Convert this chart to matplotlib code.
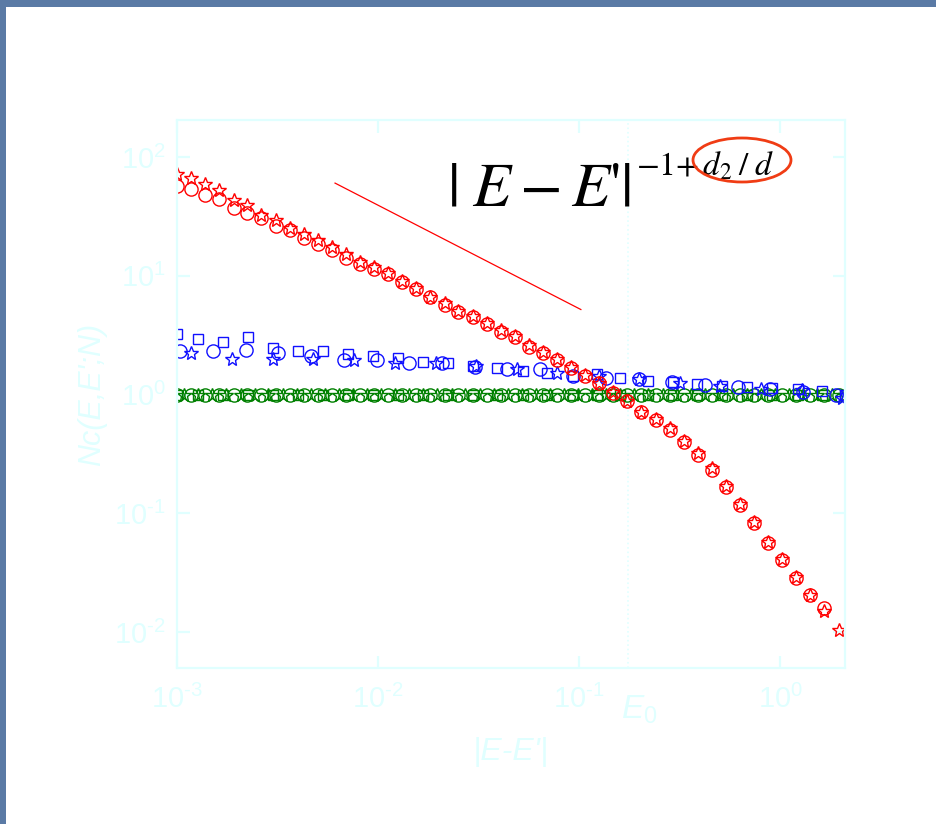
import matplotlib
matplotlib.use("Agg")
import numpy as np
import matplotlib.pyplot as plt
from matplotlib.patches import Ellipse, Rectangle
from matplotlib.ticker import LogLocator, NullLocator, FuncFormatter

# ---- data -------------------------------------------------------------
# red: power-law regime, crossing over near E0
red_x = [0.00100, 0.00117, 0.00138, 0.00162, 0.00191, 0.00224, 0.00263, 0.00309,
         0.00363, 0.00427, 0.00501, 0.00589, 0.00692, 0.00813, 0.00955, 0.0112,
         0.0132, 0.0155, 0.0182, 0.0214, 0.0251, 0.0295, 0.0347, 0.0407,
         0.0479, 0.0562, 0.0661, 0.0776, 0.0912, 0.107, 0.126, 0.148,
         0.174, 0.204, 0.240, 0.282, 0.331, 0.389, 0.457, 0.537,
         0.631, 0.741, 0.871, 1.02, 1.20, 1.41, 1.66, 1.95]
red_circle_y = [56.9, 53.7, 47.8, 44.2, 37.1, 33.7, 30.6, 26.2,
                24.2, 20.7, 18.4, 16.4, 14.1, 12.7, 11.4, 10.3,
                8.81, 7.69, 6.59, 5.74, 5.01, 4.47, 3.90, 3.40,
                3.03, 2.54, 2.26, 1.97, 1.69, 1.45, 1.26, 1.04,
                0.889, 0.719, 0.615, 0.507, 0.401, 0.312, 0.233, 0.167,
                0.118, 0.0832, 0.0564, 0.0406, 0.0286, 0.0205, 0.0160]
red_star_y = [71.9, 66.5, 59.2, 52.7, 43.4, 39.3, 32.4, 29.4,
              25.2, 22.4, 19.9, 17.4, 15.2, 13.2, 11.8, 10.6,
              9.0, 7.9, 6.7, 5.9, 5.1, 4.6, 4.0, 3.5,
              3.1, 2.6, 2.3, 2.0, 1.72, 1.47, 1.26, 1.05,
              0.88, 0.72, 0.62, 0.52, 0.41, 0.32, 0.24, 0.17,
              0.12, 0.084, 0.057, 0.041, 0.029, 0.0205, 0.0150, 0.0104]

# blue: weak dependence
blue_square_x = [0.00100, 0.00127, 0.00169, 0.00225, 0.00301, 0.00400, 0.00532,
                 0.00710, 0.00944, 0.0126, 0.0167, 0.0223, 0.0297, 0.0391,
                 0.0526, 0.0693, 0.0933, 0.123, 0.160, 0.220, 0.294,
                 0.386, 0.514, 0.686, 0.912, 1.22, 1.62, 2.10]
blue_square_y = [3.27, 2.97, 2.80, 3.08, 2.49, 2.31, 2.31,
                 2.18, 2.13, 2.05, 1.90, 1.83, 1.76, 1.69,
                 1.59, 1.53, 1.45, 1.50, 1.39, 1.31, 1.29,
                 1.24, 1.19, 1.17, 1.14, 1.12, 1.08, 1.00]
blue_circle_x = [0.00103, 0.00151, 0.00220, 0.00318, 0.00464, 0.00678, 0.00989,
                 0.0143, 0.0208, 0.0304, 0.0438, 0.0640, 0.0933, 0.136,
                 0.199, 0.290, 0.424, 0.618, 0.891, 1.30, 1.90]
blue_circle_y = [2.35, 2.35, 2.40, 2.26, 2.13, 1.94, 1.94,
                 1.86, 1.86, 1.72, 1.66, 1.63, 1.45, 1.39,
                 1.36, 1.29, 1.21, 1.17, 1.12, 1.06, 1.00]
blue_star_x = [0.00117, 0.00188, 0.00301, 0.00475, 0.00760, 0.0122, 0.0195,
               0.0308, 0.0492, 0.0778, 0.125, 0.199, 0.318, 0.502,
               0.804, 1.29, 2.03]
blue_star_y = [2.26, 2.01, 2.01, 2.01, 1.97, 1.86, 1.86,
               1.76, 1.63, 1.53, 1.45, 1.36, 1.26, 1.19,
               1.12, 1.10, 0.94]

# green: flat at 1
green_circle_x = red_x
green_circle_y = [1.0] * len(green_circle_x)
green_star_x = [0.00108, 0.00127, 0.00150, 0.00176, 0.00207, 0.00243, 0.00285, 0.00335,
                0.00394, 0.00462, 0.00543, 0.00638, 0.00750, 0.00881, 0.0104, 0.0122,
                0.0143, 0.0168, 0.0197, 0.0232, 0.0272, 0.0320, 0.0376, 0.0442,
                0.0519, 0.0610, 0.0716, 0.0841, 0.0989, 0.116, 0.136, 0.160,
                0.188, 0.221, 0.260, 0.305, 0.359, 0.422, 0.495, 0.582,
                0.684, 0.804, 0.944, 1.11, 1.30, 1.53, 1.80, 2.11]
green_star_y = [1.0] * len(green_star_x)
green_square_x = blue_square_x
green_square_y = [1.0] * len(green_square_x)

# guide line with slope -1 + d2/d
guide_x = [0.00611, 0.102]
guide_y = [60.4, 5.21]

E0 = 0.175

# ---- style ------------------------------------------------------------
plt.rcParams['mathtext.fontset'] = 'custom'
plt.rcParams['mathtext.rm'] = 'Liberation Sans'
plt.rcParams['mathtext.it'] = 'Liberation Sans:italic'
plt.rcParams['mathtext.bf'] = 'Liberation Sans:bold'
plt.rcParams['axes.unicode_minus'] = False
plt.rcParams['font.family'] = ['Liberation Sans', 'DejaVu Sans']

axis_col = '#E0FFFF'
green = '#008000'


def pow10(v, pos):
    # 10^n with a short hyphen for negative exponents
    n = int(round(np.log10(v)))
    exp = r'\text{-}%d' % -n if n < 0 else '%d' % n
    return r'$10^{%s}$' % exp


fig = plt.figure(figsize=(9.37, 8.24), dpi=100)
fig.patch.set_facecolor('#5A7AA5')
fig.patches.append(Rectangle((6 / 937, 0), 1, 1 - 7 / 824, transform=fig.transFigure,
                             facecolor='white', edgecolor='none', zorder=-10))

ax = fig.add_axes([0.1889, 0.1893, 0.7129, 0.665])
ax.set_facecolor('none')
ax.set_xscale('log')
ax.set_yscale('log')
ax.set_xlim(1e-3, 2.1)
ax.set_ylim(5e-3, 205)

mk = dict(linestyle='none', markerfacecolor='none', markeredgewidth=1.0, clip_on=True)

ax.plot(green_square_x, green_square_y, marker='s', ms=7.5, markeredgecolor=green, **mk)
ax.plot(green_circle_x, green_circle_y, marker='o', ms=9.5, markeredgecolor=green, **mk)
ax.plot(green_star_x, green_star_y, marker='*', ms=10.5, markeredgecolor=green, **mk)

ax.plot(blue_square_x, blue_square_y, marker='s', ms=7.5, markeredgecolor='#1010FF', **mk)
ax.plot(blue_circle_x, blue_circle_y, marker='o', ms=9.5, markeredgecolor='#1010FF', **mk)
ax.plot(blue_star_x, blue_star_y, marker='*', ms=10.5, markeredgecolor='#1010FF', **mk)

ax.plot(red_x[:len(red_circle_y)], red_circle_y, marker='o', ms=9.5, markeredgecolor='red', **mk)
ax.plot(red_x, red_star_y, marker='*', ms=10.5, markeredgecolor='red', **mk)

ax.plot(guide_x, guide_y, color='red', lw=0.9)
ax.axvline(E0, color=axis_col, lw=1.2, ls=':', zorder=0)

for s in ax.spines.values():
    s.set_color(axis_col)
    s.set_linewidth(1.6)
ax.xaxis.set_major_locator(LogLocator(base=10, numticks=10))
ax.yaxis.set_major_locator(LogLocator(base=10, numticks=10))
ax.xaxis.set_minor_locator(NullLocator())
ax.yaxis.set_minor_locator(NullLocator())
ax.xaxis.set_major_formatter(FuncFormatter(pow10))
ax.yaxis.set_major_formatter(FuncFormatter(pow10))
ax.tick_params(which='major', direction='in', length=9, width=1.6, color=axis_col,
               labelcolor=axis_col, labelsize=21, top=True, right=True)
ax.tick_params(axis='x', pad=12)
ax.tick_params(axis='y', pad=8)

ax.set_xlabel("|E-E'|", fontsize=23, style='italic', color=axis_col)
ax.set_ylabel("Nc(E,E';N)", fontsize=22, style='italic', color=axis_col)
ax.xaxis.set_label_coords(0.5, -0.125)
ax.yaxis.set_label_coords(-0.105, 0.5)

fig.text(621 / 937, 1 - 719 / 824, r'$E_0$', fontsize=24, color=axis_col,
         ha='left', va='baseline')

# formula annotation
fig.text(447 / 937, 1 - 205 / 824, r"$|\;E - E\text{'}|$", fontsize=45,
         math_fontfamily='stix', ha='left', va='baseline', color='black')
fig.text(636 / 937, 1 - 175 / 824, r"$-1{+}\,d_2\;/\;d$", fontsize=24,
         math_fontfamily='stix', ha='left', va='baseline', color='black')
fig.patches.append(Ellipse((742 / 937, 1 - 160 / 824), 98 / 937, 44 / 824,
                           transform=fig.transFigure, facecolor='none',
                           edgecolor='#F03C14', lw=2.0, zorder=5))

fig.savefig('out.png', dpi=100)
